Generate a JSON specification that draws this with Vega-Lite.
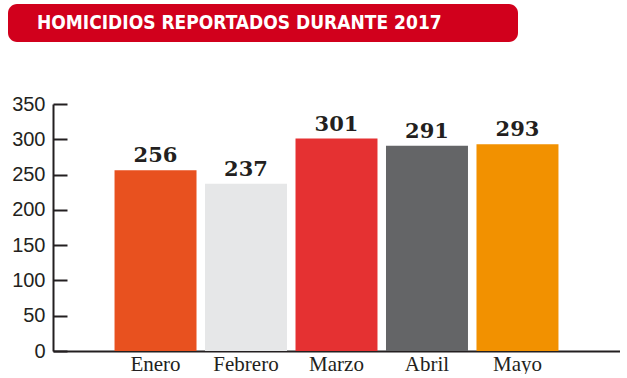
{
  "$schema": "https://vega.github.io/schema/vega-lite/v6.json",
  "padding": {"left": 8, "top": 4, "right": 0, "bottom": 0},
  "background": "white",
  "config": {"view": {"stroke": null}},
  "data": {"values": [
    {"mes": "Enero", "homicidios": 256},
    {"mes": "Febrero", "homicidios": 237},
    {"mes": "Marzo", "homicidios": 301},
    {"mes": "Abril", "homicidios": 291},
    {"mes": "Mayo", "homicidios": 293}
  ]},
  "spacing": 52,
  "vconcat": [
    {
      "width": 510,
      "height": 38,
      "view": {"fill": "#d1001c", "cornerRadius": 9, "stroke": null},
      "title": {
        "text": "HOMICIDIOS REPORTADOS DURANTE 2017",
        "anchor": "start",
        "orient": "top",
        "offset": -29,
        "dx": 29,
        "color": "white",
        "font": "Liberation Sans Narrow, DejaVu Sans Condensed, sans-serif",
        "fontSize": 19,
        "fontWeight": "bold"
      },
      "mark": {"type": "point", "opacity": 0},
      "encoding": {}
    },
    {
      "spacing": 0,
      "bounds": "flush",
      "hconcat": [
        {
          "width": 45,
          "height": 247,
          "mark": {"type": "point", "opacity": 0},
          "encoding": {}
        },
        {
          "width": 567,
          "height": 247,
          "encoding": {
            "x": {
              "field": "mes",
              "type": "nominal",
              "sort": null,
              "scale": {"paddingInner": 0.094, "paddingOuter": 0.68},
              "axis": {
                "title": null,
                "labelAngle": 0,
                "ticks": false,
                "domainColor": "#231f20",
                "domainWidth": 2,
                "labelFont": "Liberation Serif",
                "labelFontSize": 21,
                "labelColor": "#231f20",
                "labelPadding": 2
              }
            },
            "y": {
              "field": "homicidios",
              "type": "quantitative",
              "scale": {"domain": [0, 350], "nice": false},
              "axis": {
                "title": null,
                "values": [0, 50, 100, 150, 200, 250, 300, 350],
                "grid": false,
                "domainColor": "#231f20",
                "domainWidth": 2,
                "tickColor": "#231f20",
                "tickWidth": 2,
                "tickSize": -14,
                "labelPadding": 22,
                "labelFont": "Liberation Sans",
                "labelFontSize": 20,
                "labelColor": "#231f20"
              }
            }
          },
          "layer": [
            {
              "mark": {"type": "bar"},
              "encoding": {
                "color": {
                  "field": "mes",
                  "type": "nominal",
                  "sort": null,
                  "scale": {
                    "domain": ["Enero", "Febrero", "Marzo", "Abril", "Mayo"],
                    "range": ["#e8511f", "#e6e7e8", "#e53132", "#646567", "#f29100"]
                  },
                  "legend": null
                }
              }
            },
            {
              "mark": {
                "type": "text",
                "baseline": "alphabetic",
                "dy": -8,
                "font": "DejaVu Serif",
                "fontWeight": "bold",
                "fontSize": 21,
                "color": "#231f20"
              },
              "encoding": {"text": {"field": "homicidios", "type": "quantitative"}}
            }
          ]
        }
      ]
    }
  ]
}
